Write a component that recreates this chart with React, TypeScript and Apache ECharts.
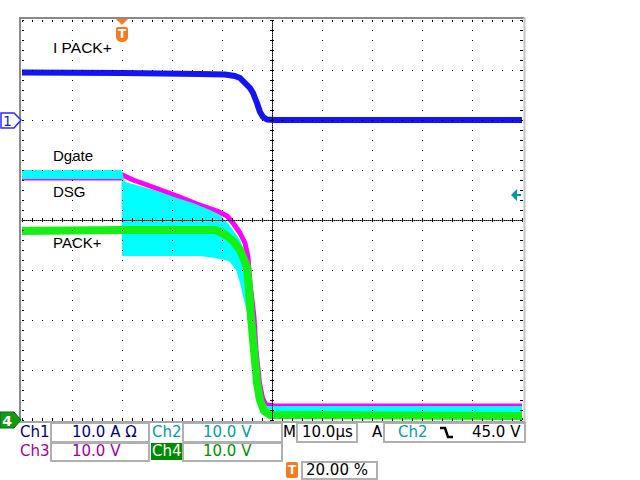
import React, { useEffect, useRef } from "react";
import * as echarts from "echarts";

// ---- scope settings ----
const timeMin = -20; // µs  (M 10.0 µs/div, trigger at 20 %)
const timeMax = 80;
const timeStep = 10;
const voltMin = 0; // 10.0 V/div for Ch2..Ch4, ground at bottom line
const voltMax = 80;
const voltStep = 10;
const ch1Ground = 60; // Ch1 ground marker (6 div up), 10.0 A/div
const ch4Ground = 0;
const trigTime = 0;
const trigLevel = 45; // Ch2 falling, 45.0 V

const chScales = ["10.0 A Ω", "10.0 V", "10.0 V", "10.0 V"];
const timebaseText = "10.0µs";
const trigSourceText = "Ch2";
const trigLevelText = "45.0 V";
const trigPosText = "20.00 %";
const traceNames = ["I PACK+", "Dgate", "DSG", "PACK+"];

// ---- traces: [time µs, value] ----
// Ch1 current (A)
const ch1Current: [number, number][] = [
  [-20, 9.5], [0, 9.4], [15.6, 9.2], [20.6, 9.1], [22.6, 8.8], [23.6, 8.4],
  [24.6, 7.4], [25.6, 6.4], [26.2, 5.4], [27, 3.4], [27.6, 1.6], [28.2, 0.6],
  [29, 0.1], [30.6, 0], [80, 0],
];
// Ch2 Dgate (V): upper and lower envelope of the noisy band
const ch2Upper: [number, number][] = [
  [-20, 50], [-0.1, 50], [0, 49.6], [0.6, 47.6], [3.6, 46.8], [7.6, 45.6],
  [11, 44.4], [14.2, 43.4], [17.6, 42], [19.6, 41], [21, 39.6], [22.2, 38],
  [23.6, 36], [24.2, 34.4], [25, 32], [25.2, 27.4], [26.2, 20.6], [26.6, 14],
  [27.4, 7.4], [28.2, 4], [29, 2.8], [80, 2.8],
];
const ch2Lower: [number, number][] = [
  [-20, 48.2], [-0.1, 48.2], [0, 32.8], [15.6, 32.8], [18.6, 32.4], [20.6, 32],
  [21.6, 31.6], [22.8, 30], [23.6, 27.4], [25.2, 20.6], [26, 14], [26.6, 7.4],
  [27.2, 4], [28, 2], [28.8, 1], [80, 1],
];
// Ch3 DSG (V)
const ch3Dsg: [number, number][] = [
  [-20, 48.4], [-0.1, 48.4], [0.1, 49], [2.2, 48], [5.6, 46.8], [11, 44.8],
  [15, 43.2], [19, 41.8], [21, 40.8], [22.2, 39.4], [23.6, 37.4], [24.6, 35.4],
  [25.2, 32.6], [25.6, 27.4], [26.4, 20.6], [26.8, 14], [27.5, 7.4], [28.1, 4.4],
  [28.8, 3], [30.6, 2.8], [80, 2.8],
];
// Ch4 PACK+ (V)
const ch4Pack: [number, number][] = [
  [-20, 37.8], [0, 38], [18.6, 38], [20, 37.4], [21, 36.8], [22.2, 35.8],
  [23.6, 34], [24.2, 32.6], [25, 30.6], [25.3, 27.4], [25.8, 20.6], [26.4, 14],
  [27, 7.4], [27.6, 4], [28.4, 1.8], [29.6, 1], [80, 0.8],
];

const C1 = "#1414f4";
const C2 = "#00ffff";
const C3 = "#ff00ff";
const C4 = "#14f014";
const L1 = "#000088";
const L2 = "#00a0a0";
const L3 = "#a000a0";
const L4 = "#009000";
const ORANGE = "#f47b20";
const BOXC = "#b0b0b0";
const UI_FONT = "DejaVu Sans";
const LBL_FONT = "Liberation Sans";

export default function App() {
  const ref = useRef<HTMLDivElement>(null);
  useEffect(() => {
    const chart = echarts.init(ref.current!, null, { renderer: "svg" });
    const tick = (inside: boolean) => ({
      show: true, inside, length: 2, lineStyle: { color: "#000", width: 1 },
    });
    const minor = { show: true, splitNumber: 5, length: 2, lineStyle: { color: "#000", width: 1 } };
    const base = (dim: "x" | "y") => ({
      type: "value",
      gridIndex: 0,
      min: dim === "x" ? timeMin : voltMin,
      max: dim === "x" ? timeMax : voltMax,
      interval: dim === "x" ? timeStep : voltStep,
      axisLabel: { show: false },
      axisLine: { show: false, onZero: false },
      splitLine: { show: false },
      axisTick: { show: false },
      minorTick: { show: false },
      silent: true,
      z: 10,
    });
    const dotted = { show: true, lineStyle: { type: [1, 9], color: "#000", width: 1 } };
    const centerLine = { show: true, onZero: false, lineStyle: { type: [1, 1], color: "#000", width: 1 } };

    const lineSeries = (name: string, data: number[][], color: string, width: number, z: number) => ({
      type: "line",
      name,
      xAxisIndex: 0,
      yAxisIndex: 0,
      data,
      symbol: "none",
      showSymbol: false,
      silent: true,
      clip: true,
      z,
      lineStyle: { color, width, join: "round", cap: "butt" },
    });

    chart.setOption({
      animation: false,
      backgroundColor: "#ffffff",
      grid: { left: 22, top: 20, width: 500, height: 400, show: false, outerBoundsMode: "none" },
      xAxis: [
        { ...base("x"), position: "bottom", splitLine: dotted, axisTick: tick(true), minorTick: minor },
        { ...base("x"), position: "top", axisTick: tick(true), minorTick: minor },
        { ...base("x"), position: "bottom", offset: -200, axisLine: centerLine, axisTick: tick(true), minorTick: minor },
        { ...base("x"), position: "bottom", offset: -200, axisTick: tick(false), minorTick: minor },
      ],
      yAxis: [
        { ...base("y"), position: "left", splitLine: dotted, axisTick: tick(true), minorTick: minor },
        { ...base("y"), position: "right", axisTick: tick(true), minorTick: minor },
        { ...base("y"), position: "left", offset: -250, axisLine: centerLine, axisTick: tick(true), minorTick: minor },
        { ...base("y"), position: "left", offset: -250, axisTick: tick(false), minorTick: minor },
      ],
      series: [
        lineSeries("Ch3", ch3Dsg, C3, 5, 2),
        {
          type: "custom",
          name: "Ch2",
          coordinateSystem: "cartesian2d",
          xAxisIndex: 0,
          yAxisIndex: 0,
          data: [[0, 0]],
          silent: true,
          clip: true,
          z: 3,
          renderItem: (_params: any, api: any) => {
            const pts = ch2Upper
              .map((p) => api.coord(p))
              .concat(ch2Lower.slice().reverse().map((p) => api.coord(p)));
            return { type: "polygon", shape: { points: pts }, style: { fill: C2, stroke: null } };
          },
        },
        lineSeries("Ch4", ch4Pack, C4, 8, 4),
        lineSeries("Ch1", ch1Current.map(([t, a]) => [t, ch1Ground + a]), C1, 6, 5),
      ],
    });

    const xp = (t: number) => chart.convertToPixel({ xAxisIndex: 0 }, t) as number;
    const yp = (v: number) => chart.convertToPixel({ yAxisIndex: 0 }, v) as number;
    const x0 = xp(timeMin), x1 = xp(timeMax);
    const yTop = yp(voltMax), yBot = yp(voltMin);
    const y1 = yp(ch1Ground);
    const y4 = yp(ch4Ground);
    const yTrig = yp(trigLevel);
    const xTrig = xp(trigTime);

    const txt = (text: string, x: number, y: number, fill: string, opts: any = {}) => ({
      type: "text",
      x,
      y,
      z: 100,
      silent: true,
      style: {
        text,
        fill,
        fontSize: opts.size ?? 15,
        fontFamily: opts.family ?? UI_FONT,
        fontWeight: opts.weight ?? "normal",
        align: opts.align ?? "left",
        verticalAlign: "middle",
      },
    });
    const box = (x: number, y: number, w: number, h: number, fill = "#fff", stroke = BOXC) => ({
      type: "rect",
      z: 90,
      silent: true,
      shape: { x, y, width: w, height: h },
      style: { fill, stroke, lineWidth: 2 },
    });
    const ln = (xa: number, ya: number, xb: number, yb: number, stroke: string, w: number) => ({
      type: "line",
      z: 95,
      silent: true,
      shape: { x1: xa, y1: ya, x2: xb, y2: yb },
      style: { stroke, lineWidth: w },
    });

    const r1 = 432, r2 = 451, r3 = 470;
    chart.setOption({
      graphic: [
        // frame
        ln(x0 - 2, yTop - 2, x1 + 3, yTop - 2, "#8a8a8a", 2),
        ln(x0 - 2, yTop - 3, x0 - 2, yBot + 2, "#8a8a8a", 2),
        ln(x1 + 2.5, yTop - 3, x1 + 2.5, yBot + 2, "#c4c4c4", 2),
        ln(x0 - 3, yBot + 2, x1 + 3, yBot + 2, "#a8a8a8", 2),
        // trace labels
        txt(traceNames[0], 53, 47, "#000", { size: 15.5, family: LBL_FONT }),
        txt(traceNames[1], 53, 155, "#000", { size: 15, family: LBL_FONT }),
        txt(traceNames[2], 53, 191, "#000", { size: 15, family: LBL_FONT }),
        txt(traceNames[3], 53, 242, "#000", { size: 15, family: LBL_FONT }),
        // Ch1 ground marker
        {
          type: "polygon", z: 100, silent: true,
          shape: { points: [[1, y1 - 7], [14, y1 - 7], [21, y1], [14, y1 + 8], [1, y1 + 8]] },
          style: { fill: "#fff", stroke: "#2a2aff", lineWidth: 1.5 },
        },
        txt("1", 7.5, y1 + 0.5, "#1a1ad0", { size: 14, align: "center" }),
        // Ch4 ground marker
        {
          type: "polygon", z: 100, silent: true,
          shape: { points: [[0, y4 - 8], [14, y4 - 8], [21, y4], [14, y4 + 8], [0, y4 + 8]] },
          style: { fill: "#139a13", stroke: "#0b6b0b", lineWidth: 1 },
        },
        txt("4", 7, y4 + 0.5, "#fff", { size: 14, align: "center", weight: "bold" }),
        // trigger position marker (top)
        {
          type: "polygon", z: 100, silent: true,
          shape: { points: [[xTrig - 6, yTop - 1], [xTrig + 6, yTop - 1], [xTrig, yTop + 5]] },
          style: { fill: ORANGE },
        },
        {
          type: "rect", z: 100, silent: true,
          shape: { x: xTrig - 6, y: yTop + 7, width: 12, height: 15, r: [2, 2, 5, 5] },
          style: { fill: ORANGE },
        },
        txt("T", xTrig, yTop + 14, "#fff", { size: 12, align: "center", weight: "bold" }),
        // trigger level arrow (right)
        {
          type: "polygon", z: 100, silent: true,
          shape: { points: [[x1 - 11, yTrig], [x1 - 5, yTrig - 6], [x1 - 5, yTrig + 6]] },
          style: { fill: "#009a9a" },
        },
        ln(x1 - 6, yTrig, x1 - 1, yTrig, "#009a9a", 2),
        // status bar boxes
        box(51, 423, 98, 19),
        box(183, 423, 99, 19),
        box(297, 423, 60, 19),
        box(384, 423, 141, 19),
        box(51, 443, 98, 18),
        box(183, 443, 99, 18),
        box(302, 462, 75, 17),
        {
          type: "rect", z: 91, silent: true,
          shape: { x: 151, y: 443, width: 31, height: 17 },
          style: { fill: "#008c00" },
        },
        // row 1
        txt("Ch1", 20, r1, L1),
        txt(chScales[0], 72, r1, L1),
        txt("Ch2", 152, r1, L2),
        txt(chScales[1], 203, r1, L2),
        txt("M", 283, r1, "#000"),
        txt(timebaseText, 302, r1, "#000"),
        txt("A", 372, r1, "#000"),
        txt(trigSourceText, 398, r1, L2),
        {
          type: "polyline", z: 100, silent: true,
          shape: { points: [[440, 428], [445, 428], [448, 437], [453, 437]] },
          style: { stroke: "#000", lineWidth: 2.5, fill: null },
        },
        txt(trigLevelText, 472, r1, "#000"),
        // row 2
        txt("Ch3", 20, r2, L3),
        txt(chScales[2], 72, r2, L3),
        txt("Ch4", 152, r2, "#fff"),
        txt(chScales[3], 203, r2, L4),
        // row 3
        {
          type: "rect", z: 100, silent: true,
          shape: { x: 286, y: 462, width: 12, height: 16, r: 2 },
          style: { fill: ORANGE },
        },
        txt("T", 292, 470, "#fff", { size: 12, align: "center", weight: "bold" }),
        txt(trigPosText, 306, r3, "#000"),
      ],
    });

    return () => chart.dispose();
  }, []);
  return (
    <div
      ref={ref}
      style={{ position: "absolute", left: 0, top: 0, width: 640, height: 480, background: "#fff" }}
    />
  );
}
